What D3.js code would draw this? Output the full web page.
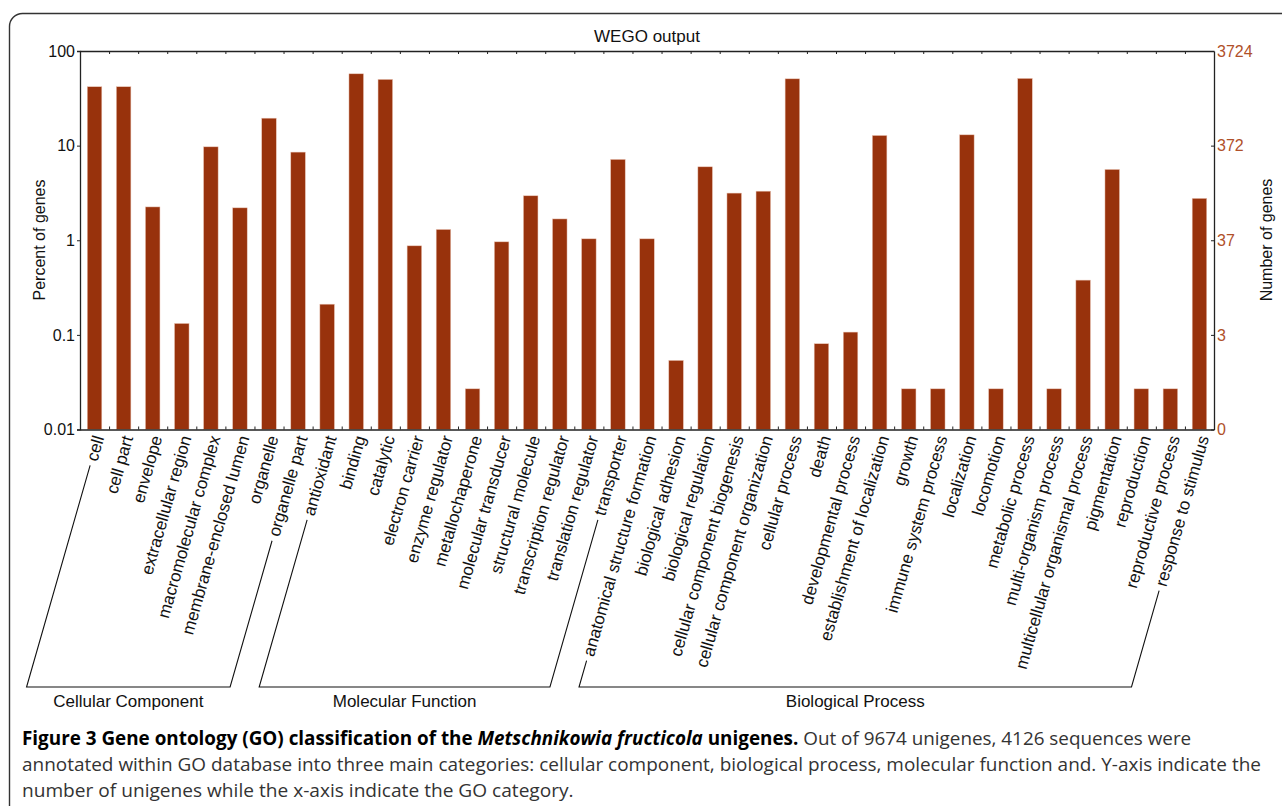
<!DOCTYPE html>
<html>
<head>
<meta charset="utf-8">
<script src="https://cdn.jsdelivr.net/npm/d3@7"></script>
<style>
  html, body { margin: 0; padding: 0; background: #fff; }
  svg { display: block; }
  text { font-family: "Liberation Sans", Arial, Helvetica, sans-serif; }
</style>
</head>
<body>
<svg id="chart" width="1282" height="806"></svg>
<script>
// ---------------- DATA ----------------
const categories = [
  "cell", "cell part", "envelope", "extracellular region", "macromolecular complex",
  "membrane-enclosed lumen", "organelle", "organelle part",
  "antioxidant", "binding", "catalytic", "electron carrier", "enzyme regulator",
  "metallochaperone", "molecular transducer", "structural molecule",
  "transcription regulator", "translation regulator", "transporter",
  "anatomical structure formation", "biological adhesion", "biological regulation",
  "cellular component biogenesis", "cellular component organization", "cellular process",
  "death", "developmental process", "establishment of localization", "growth",
  "immune system process", "localization", "locomotion", "metabolic process",
  "multi-organism process", "multicellular organismal process", "pigmentation",
  "reproduction", "reproductive process", "response to stimulus"
];
const percentValues = [
  41.9, 41.9, 2.25, 0.132, 9.71,
  2.2, 19.5, 8.54,
  0.211, 57.4, 50.1, 0.873, 1.30,
  0.0269, 0.962, 2.95,
  1.68, 1.035, 7.15,
  1.035, 0.0537, 5.97,
  3.15, 3.30, 50.8,
  0.0806, 0.107, 12.8, 0.0269,
  0.0269, 13.0, 0.0269, 51.3,
  0.0269, 0.379, 5.6,
  0.0269, 0.0269, 2.77
];
const groupNames = ["Cellular Component", "Molecular Function", "Biological Process"];
const groupFirst = ["cell", "antioxidant", "anatomical structure formation"];
const groupLast = ["organelle part", "transporter", "response to stimulus"];
const leftTicks = [0.01, 0.1, 1, 10, 100];
const rightTickLabels = ["0", "3", "37", "372", "3724"];
const chartTitle = "WEGO output";
const leftAxisTitle = "Percent of genes";
const rightAxisTitle = "Number of genes";

// ---------------- LAYOUT ----------------
const svg = d3.select("#chart");
const L = 80, R = 1214, T = 51, B = 429.5;
const barColor = "#98320c";
const rightColor = "#b0502a";
const axisColor = "#222";

// frame
svg.append("rect")
  .attr("x", 9.5).attr("y", 13.5)
  .attr("width", 1300).attr("height", 820)
  .attr("rx", 13).attr("ry", 13)
  .attr("fill", "none").attr("stroke", "#333").attr("stroke-width", 1.4);

const x = d3.scaleBand().domain(categories).range([L, R]).paddingInner(0.5).paddingOuter(0.25);
const y = d3.scaleLog().domain([0.01, 100]).range([B, T]);

// bars
svg.append("g").selectAll("rect").data(categories).join("rect")
  .attr("x", d => x(d))
  .attr("width", x.bandwidth())
  .attr("y", (d, i) => y(percentValues[i]))
  .attr("height", (d, i) => B - y(percentValues[i]))
  .attr("fill", barColor)
  .attr("stroke", "#e9c3b4").attr("stroke-width", 0.5);

// left axis
const gl = svg.append("g").attr("transform", `translate(${L},0)`)
  .call(d3.axisLeft(y).tickValues(leftTicks).tickSize(3).tickPadding(2).tickFormat(d => String(d)));
gl.selectAll("text").attr("font-size", 16).attr("fill", "#111");
gl.select(".domain").attr("stroke", axisColor).attr("stroke-width", 1.3);
gl.selectAll(".tick line").attr("stroke", axisColor);

// right axis
const gr = svg.append("g").attr("transform", `translate(${R},0)`)
  .call(d3.axisRight(y).tickValues(leftTicks).tickSizeInner(-3).tickSizeOuter(0).tickPadding(3)
    .tickFormat((d, i) => rightTickLabels[i]));
gr.selectAll("text").attr("font-size", 16).attr("fill", rightColor);
gr.select(".domain").attr("stroke", axisColor).attr("stroke-width", 1.3);
gr.selectAll(".tick line").attr("stroke", axisColor);

// top & bottom axis lines with boundary ticks
const step = x.step();
const bounds = d3.range(1, categories.length).map(i => L + i * step);
const lin = d3.scaleLinear().domain([L, R]).range([L, R]);
const gtop = svg.append("g").attr("transform", `translate(0,${T})`)
  .call(d3.axisTop(lin).tickValues(bounds).tickSizeInner(-3).tickSizeOuter(0).tickFormat(""));
gtop.select(".domain").attr("stroke", axisColor).attr("stroke-width", 1.3);
gtop.selectAll(".tick line").attr("stroke", axisColor);
const gbot = svg.append("g").attr("transform", `translate(0,${B})`)
  .call(d3.axisBottom(lin).tickValues(bounds).tickSizeInner(-3).tickSizeOuter(0).tickFormat(""));
gbot.select(".domain").attr("stroke", axisColor).attr("stroke-width", 1.3);
gbot.selectAll(".tick line").attr("stroke", axisColor);

// title and axis titles
svg.append("text").attr("x", (L + R) / 2).attr("y", 42).attr("text-anchor", "middle")
  .attr("font-size", 17).attr("fill", "#111").text(chartTitle);
svg.append("text").attr("transform", `translate(45,240) rotate(-90)`).attr("text-anchor", "middle")
  .attr("font-size", 16).attr("fill", "#111").text(leftAxisTitle);
svg.append("text").attr("transform", `translate(1272,240) rotate(-90)`).attr("text-anchor", "middle")
  .attr("font-size", 16).attr("fill", "#111").text(rightAxisTitle);

// category labels
const ang = 74;
const rad = ang * Math.PI / 180;
const ux = -Math.cos(rad), uy = Math.sin(rad);
const labelY = 436;
const labelFont = 17;
const labels = svg.append("g").selectAll("text").data(categories).join("text")
  .attr("transform", d => `translate(${x(d) + x.bandwidth() / 2 + 4},${labelY}) rotate(${-ang})`)
  .attr("text-anchor", "end")
  .attr("dy", "0.35em")
  .attr("font-size", labelFont)
  .attr("fill", "#111")
  .text(d => d);

const lens = {};
labels.each(function(d) { lens[d] = this.getComputedTextLength(); });

// group brackets
const bracketY = 687;
function bracketPoints(cat) {
  const ax = x(cat) + x.bandwidth() / 2 + 4, ay = labelY;
  const s = lens[cat] + 5;
  const sx = ax + s * ux, sy = ay + s * uy;
  const t = (bracketY - sy) / uy;
  return [[sx, sy], [sx + t * ux, bracketY]];
}
groupNames.forEach((g, i) => {
  const a = bracketPoints(groupFirst[i]);
  const b = bracketPoints(groupLast[i]);
  const pts = [a[0], a[1], b[1], b[0]];
  svg.append("path")
    .attr("d", d3.line()(pts))
    .attr("fill", "none").attr("stroke", "#111").attr("stroke-width", 1.1);
  svg.append("text")
    .attr("x", (a[1][0] + b[1][0]) / 2).attr("y", 707)
    .attr("text-anchor", "middle").attr("font-size", 17).attr("fill", "#111")
    .text(g);
});

// caption
const capFont = '"Open Sans", "Noto Sans", sans-serif';
function captionLine(yb, targetW, parts) {
  const t = svg.append("text").attr("x", 0).attr("y", 0)
    .attr("font-size", 19).attr("fill", "#333")
    .style("font-family", capFont);
  parts.forEach(p => {
    const ts = t.append("tspan").text(p.t);
    if (p.b) ts.attr("font-weight", "bold").attr("fill", "#000");
    if (p.i) ts.attr("font-style", "italic");
  });
  const w = t.node().getComputedTextLength();
  t.attr("transform", `translate(22,${yb}) scale(${targetW / w},1)`);
}
captionLine(745, 1170, [
  { t: "Figure 3 Gene ontology (GO) classification of the ", b: true },
  { t: "Metschnikowia fructicola", b: true, i: true },
  { t: " unigenes.", b: true },
  { t: " Out of 9674 unigenes, 4126 sequences were" }
]);
captionLine(771, 1240, [
  { t: "annotated within GO database into three main categories: cellular component, biological process, molecular function and. Y-axis indicate the" }
]);
captionLine(797, 552, [
  { t: "number of unigenes while the x-axis indicate the GO category." }
]);
</script>
</body>
</html>
